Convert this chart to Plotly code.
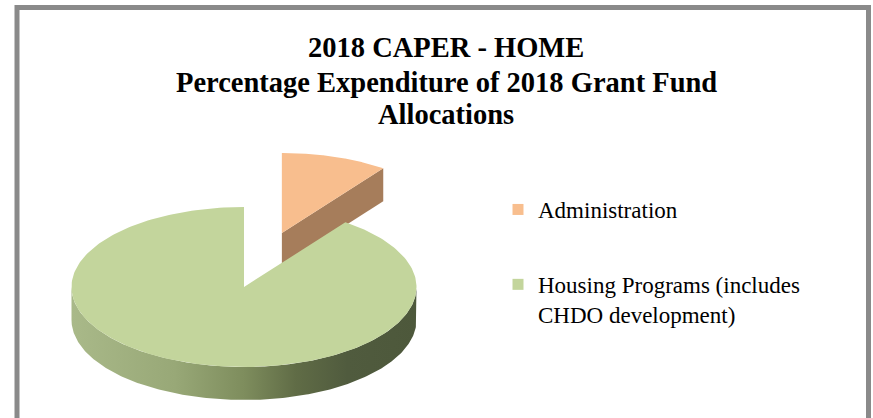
import numpy as np
import plotly.graph_objects as go

# Chart data
labels = ["Administration", "Housing Programs (includes<br>CHDO development)"]
values = [10, 90]
explode = [0.71, 0.0]
top_colors = ["#F8BE8E", "#C3D59C"]
side_scales = [
    [[0, "#A67D5B"], [1, "#A67D5B"]],
    [[0, "#A9B989"], [0.3, "#98A877"], [0.5, "#7E8D5D"], [0.65, "#606C46"],
     [0.8, "#505B3E"], [1, "#4D583B"]],
]
title_lines = ["2018 CAPER - HOME",
               "Percentage Expenditure of 2018 Grant Fund",
               "Allocations"]

# 3-D pie geometry (pixel space)
W, H = 873, 418
CX, CY = 244, 287      # centre of the top face
RX, RY = 172.5, 80     # ellipse radii of the top face
DEPTH = 33             # thickness of the pie


def arc(cx, cy, a0, a1, n=240):
    th = np.radians(np.linspace(a0, a1, n))
    return cx + RX * np.cos(th), cy - RY * np.sin(th)


fig = go.Figure()

total = float(sum(values))
slices = []
start = 90.0
for i, v in enumerate(values):
    sweep = 360.0 * v / total
    slices.append((i, start, start - sweep))
    start -= sweep

# back-most slices first
order = sorted(slices, key=lambda s: -np.sin(np.radians((s[1] + s[2]) / 2)))

for i, th1, th2 in order:
    mid = np.radians((th1 + th2) / 2)
    cx = CX + explode[i] * RX * np.cos(mid)
    cy = CY - explode[i] * RY * np.sin(mid)
    scale = side_scales[i]

    def side(xs, ys):
        fig.add_trace(go.Scatter(
            x=xs, y=ys, mode="lines", fill="toself", line=dict(width=0),
            fillgradient=dict(type="horizontal", colorscale=scale,
                              start=CX - RX, stop=CX + RX),
            hoverinfo="skip", showlegend=False))

    # radial cut faces that look towards the viewer
    for edge, normal in ((th1, th1 + 90), (th2, th2 - 90)):
        if np.sin(np.radians(normal)) < -1e-6:
            ex = cx + RX * np.cos(np.radians(edge))
            ey = cy - RY * np.sin(np.radians(edge))
            side([cx, ex, ex, cx, cx], [cy, ey, ey + DEPTH, cy + DEPTH, cy])

    # outer wall on the front half of the ellipse
    ths = np.linspace(th2, th1, 721)
    front = np.sin(np.radians(ths)) < 0
    if front.any():
        idx = np.where(front)[0]
        runs = np.split(idx, np.where(np.diff(idx) != 1)[0] + 1)
        for r in runs:
            a0, a1 = ths[r[0]], ths[r[-1]]
            tx, ty = arc(cx, cy, a0, a1)
            side(np.concatenate([tx, tx[::-1], tx[:1]]),
                 np.concatenate([ty, ty[::-1] + DEPTH, ty[:1]]))

    # top face
    ax, ay = arc(cx, cy, th1, th2)
    fig.add_trace(go.Scatter(
        x=np.concatenate([[cx], ax, [cx]]), y=np.concatenate([[cy], ay, [cy]]),
        mode="lines", fill="toself", fillcolor=top_colors[i],
        line=dict(width=0), hoverinfo="skip", showlegend=False))

# legend entries
for i, lab in enumerate(labels):
    fig.add_trace(go.Scatter(
        x=[None], y=[None], mode="markers", name=lab, legendgroup=str(i),
        marker=dict(symbol="square", size=11, color=top_colors[i]),
        hoverinfo="skip"))

# chart title, one line per annotation for tight line spacing
title_y = [47, 82, 114]
annotations = [
    dict(text=f"<b>{t}</b>", x=446, y=y, xref="x", yref="y",
         xanchor="center", yanchor="middle", showarrow=False,
         font=dict(family="Liberation Serif", size=28.5, color="black"))
    for t, y in zip(title_lines, title_y)
]

fig.update_layout(
    width=W, height=H,
    margin=dict(l=0, r=0, t=0, b=0),
    paper_bgcolor="white", plot_bgcolor="white",
    xaxis=dict(range=[0, W], visible=False, fixedrange=True),
    yaxis=dict(range=[H, 0], visible=False, fixedrange=True),
    annotations=annotations,
    legend=dict(
        x=498 / W, xanchor="left", y=1 - 188 / H, yanchor="top",
        font=dict(family="Liberation Serif", size=23, color="black"),
        tracegroupgap=42, valign="top", bgcolor="rgba(0,0,0,0)",
        itemsizing="trace"),
    shapes=[dict(type="rect", xref="x", yref="y", x0=17, y0=7.5, x1=868.5, y1=440,
                 line=dict(color="#8A8A8A", width=5))],
)

fig.write_html("out.html")
